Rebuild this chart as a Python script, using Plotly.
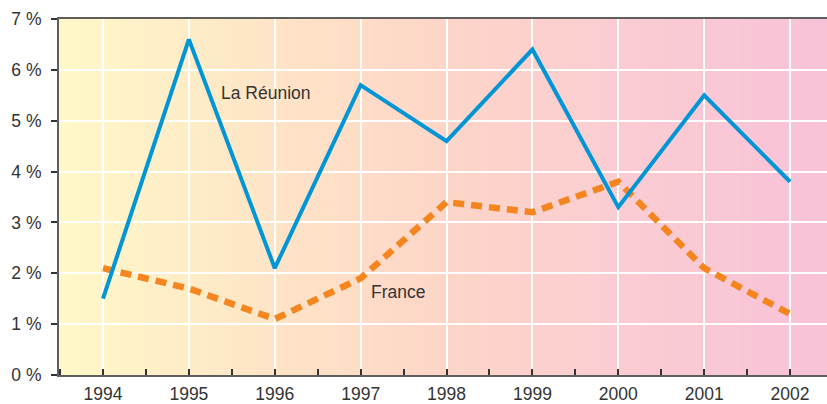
import plotly.graph_objects as go

years = [1994, 1995, 1996, 1997, 1998, 1999, 2000, 2001, 2002]
reunion = [1.5, 6.6, 2.1, 5.7, 4.6, 6.4, 3.3, 5.5, 3.8]
france = [2.1, 1.7, 1.1, 1.9, 3.4, 3.2, 3.8, 2.1, 1.2]
y_ticks = [0, 1, 2, 3, 4, 5, 6, 7]
y_labels = [f"{v} %" for v in y_ticks]

# background gradient stops (fraction, rgb)
stops = [(0.0, (255, 248, 200)), (0.31, (254, 226, 199)), (0.51, (253, 213, 200)),
         (0.72, (251, 205, 210)), (1.0, (248, 194, 216))]

def col(f):
    for (f0, c0), (f1, c1) in zip(stops[:-1], stops[1:]):
        if f0 <= f <= f1:
            t = (f - f0) / (f1 - f0) if f1 > f0 else 0
            return "rgb(%d,%d,%d)" % tuple(round(a + (b - a) * t) for a, b in zip(c0, c1))
    return "rgb(%d,%d,%d)" % stops[-1][1]

n = 120
shapes = []
for i in range(n):
    x0 = i / n
    x1 = (i + 1) / n + 0.002
    shapes.append(dict(type="rect", xref="paper", yref="paper", x0=x0, x1=min(x1, 1.0),
                       y0=0, y1=1, fillcolor=col((i + 0.5) / n), line=dict(width=0),
                       layer="below"))

FONT = "Liberation Sans, Arial"
fig = go.Figure()
fig.add_trace(go.Scatter(x=years, y=france, mode="lines",
                         line=dict(color="#F5861F", width=6.5, dash="11px,7px"),
                         showlegend=False))
fig.add_trace(go.Scatter(x=years, y=reunion, mode="lines",
                         line=dict(color="#0096D6", width=4),
                         showlegend=False))

fig.add_annotation(x=1995.351, y=5.545, text="La Réunion", showarrow=False,
                   xanchor="left", yanchor="middle",
                   font=dict(family=FONT, size=17.5, color="#333333"))
fig.add_annotation(x=1997.098, y=1.632, text="France", showarrow=False,
                   xanchor="left", yanchor="middle",
                   font=dict(family=FONT, size=17.5, color="#333333"))

fig.update_layout(
    width=827, height=404,
    margin=dict(l=59, r=0, t=19, b=29, autoexpand=False),
    paper_bgcolor="white",
    plot_bgcolor="rgba(0,0,0,0)",
    shapes=shapes,
    font=dict(family=FONT, size=17.5, color="#333333"),
    xaxis=dict(range=[1993.4876, 2002.43], tickmode="array", tickvals=years,
               ticktext=[str(y) for y in years], automargin=False,
               showgrid=True, gridcolor="white", gridwidth=1.5,
               showline=True, linecolor="#5e5e5e", linewidth=2, mirror=True,
               ticks="inside", ticklen=6, tickcolor="#333333", tickwidth=1.5,
               ticklabelstandoff=2,
               minor=dict(dtick=0.5, tick0=1993.5, ticks="inside", ticklen=6,
                          tickcolor="#333333", tickwidth=1.5, showgrid=False),
               zeroline=False, fixedrange=True),
    yaxis=dict(range=[0, 7], tickmode="array", tickvals=y_ticks, ticktext=y_labels,
               automargin=False,
               showgrid=True, gridcolor="white", gridwidth=1.5,
               showline=True, linecolor="#5e5e5e", linewidth=2,
               ticks="outside", ticklen=6, tickcolor="#333333", tickwidth=1.5,
               ticklabelstandoff=6,
               zeroline=False, fixedrange=True),
)

fig.write_html("out.html", config={"displayModeBar": False},
               post_script="document.body.style.margin='0';document.body.style.overflow='hidden';")
